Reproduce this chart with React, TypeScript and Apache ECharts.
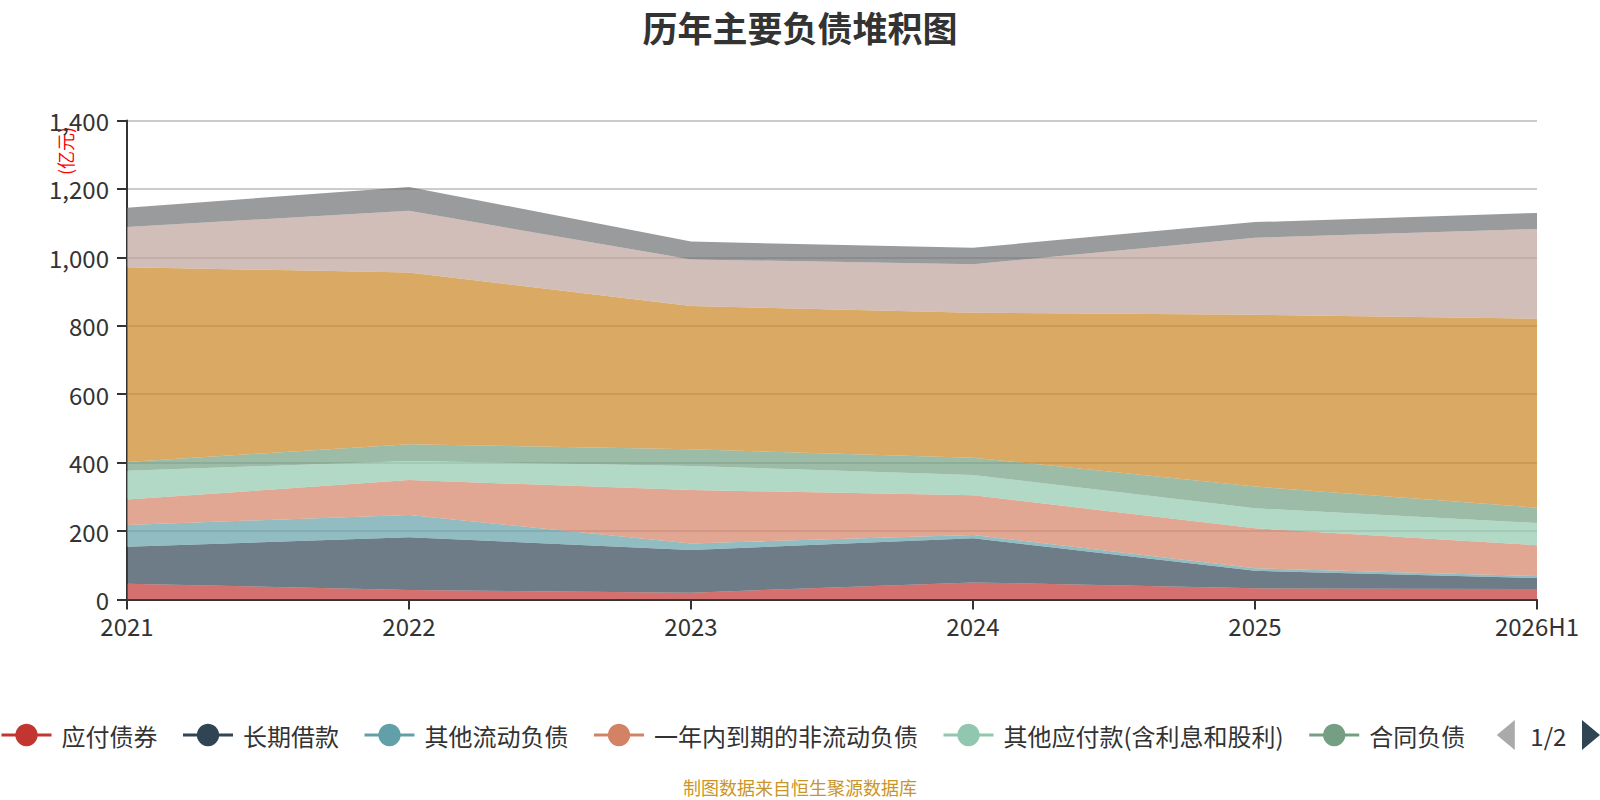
import React, { useEffect, useRef } from "react";
import * as echarts from "echarts";

const categories = ["2021", "2022", "2023", "2024", "2025", "2026H1"];
const seriesNames = [
  "应付债券",
  "长期借款",
  "其他流动负债",
  "一年内到期的非流动负债",
  "其他应付款(含利息和股利)",
  "合同负债",
  "应付账款",
  "短期借款",
  "应付票据",
];
const bonds = [46, 28, 20, 50, 32.6, 30.5];
const longLoans = [108, 154, 125, 129, 51.4, 32];
const otherCurrent = [64, 65, 19, 9.5, 7, 6];
const currentNonCurrent = [74, 102, 156, 116, 117, 90];
const otherPayables = [84, 56, 70, 59.5, 58.5, 65];
const contractLiab = [26, 49, 49, 50.5, 63.5, 45];
const accountsPayable = [569, 502, 419, 423.5, 502.5, 552];
const shortLoans = [118, 180, 136, 142, 225, 262.5];
const notesPayable = [56, 70, 52, 48, 45.5, 47];
const seriesValues = [
  bonds,
  longLoans,
  otherCurrent,
  currentNonCurrent,
  otherPayables,
  contractLiab,
  accountsPayable,
  shortLoans,
  notesPayable,
];
const yTicks = { min: 0, max: 1400, interval: 200 };
const palette = [
  "#c23531",
  "#2f4554",
  "#61a0a8",
  "#d48265",
  "#91c7ae",
  "#749f83",
  "#ca8622",
  "#bda29a",
  "#6e7074",
  "#546570",
  "#c4ccd3",
];

const FONT = "'Noto Sans CJK SC', 'Noto Sans', sans-serif";

export default function App() {
  const ref = useRef<HTMLDivElement>(null);
  useEffect(() => {
    document.body.style.margin = "0";
    if (!ref.current) return;
    const chart = echarts.init(ref.current, undefined, { renderer: "svg" });
    chart.setOption({
      animation: false,
      color: palette,
      textStyle: { fontFamily: FONT },
      title: {
        text: "历年主要负债堆积图",
        left: "center",
        top: 4,
        textStyle: { fontSize: 35, fontWeight: "bold", color: "#333", fontFamily: FONT },
      },
      grid: { left: 127, right: 63, top: 120.5, bottom: 200.5, containLabel: false },
      legend: {
        type: "scroll",
        left: 0,
        right: 0,
        top: 720,
        padding: 0,
        itemGap: 24,
        itemWidth: 50,
        itemHeight: 28,
        lineStyle: { width: 3 },
        textStyle: { fontSize: 24, color: "#333", fontFamily: FONT, padding: [0, 0, 0, 5] },
        pageIconSize: 30,
        pageIconColor: "#2f4554",
        pageIconInactiveColor: "#aaa",
        pageTextStyle: { fontSize: 24, color: "#333" },
        pageButtonItemGap: 5,
        data: seriesNames,
      },
      xAxis: {
        type: "category",
        data: categories,
        boundaryGap: false,
        axisLine: { lineStyle: { color: "#333", width: 2 } },
        axisTick: { length: 10, lineStyle: { width: 2 }, alignWithLabel: true },
        axisLabel: { fontSize: 24, color: "#333", margin: 14, fontFamily: FONT },
        splitLine: { show: false },
      },
      yAxis: {
        type: "value",
        min: yTicks.min,
        max: yTicks.max,
        interval: yTicks.interval,
        axisLine: { show: true, lineStyle: { color: "#333", width: 2 } },
        axisTick: { show: true, length: 10, lineStyle: { width: 2 } },
        axisLabel: {
          fontSize: 24,
          color: "#333",
          margin: 18,
          fontFamily: FONT,
          formatter: (v: number) => v.toLocaleString("en-US"),
        },
        splitLine: { lineStyle: { color: "#ccc", width: 2 } },
      },
      graphic: [
        {
          type: "text",
          x: 65,
          y: 151,
          rotation: Math.PI / 2,
          style: {
            text: "(亿元)",
            fill: "#ff0000",
            fontSize: 18,
            fontFamily: FONT,
            align: "center",
            verticalAlign: "middle",
          },
        },
        {
          type: "text",
          x: 800,
          y: 787,
          style: {
            text: "制图数据来自恒生聚源数据库",
            fill: "#ca9528",
            fontSize: 18,
            fontFamily: FONT,
            align: "center",
            verticalAlign: "middle",
          },
        },
      ],
      series: seriesNames.map((name, i) => ({
        name,
        type: "line",
        stack: "total",
        data: seriesValues[i],
        symbol: "circle",
        showSymbol: false,
        lineStyle: { width: 0 },
        areaStyle: { opacity: 0.7 },
      })),
    });
    return () => chart.dispose();
  }, []);
  return <div ref={ref} style={{ width: 1600, height: 800 }} />;
}
